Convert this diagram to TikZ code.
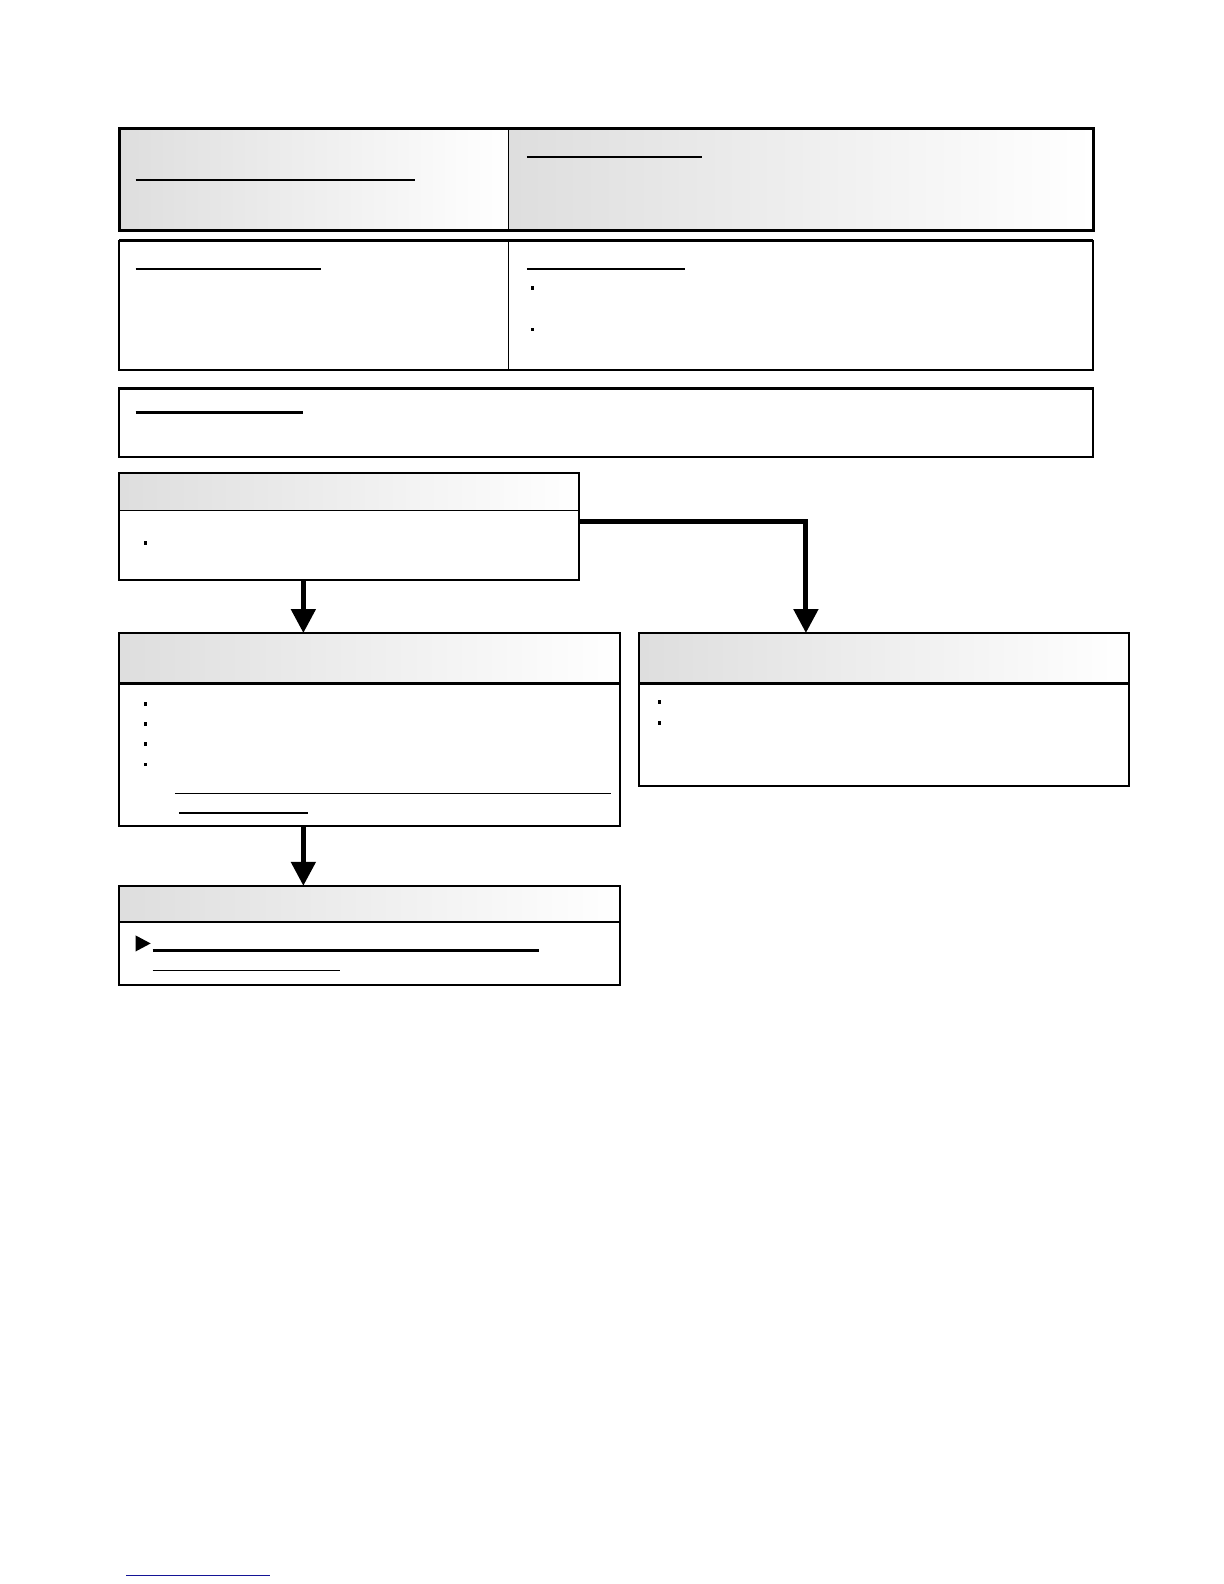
\documentclass[tikz,border=0pt]{standalone}
\usepackage{xcolor}
\usetikzlibrary{arrows.meta}
\definecolor{linkblue}{RGB}{20,20,150}
\newcommand{\pxu}{0.5056bp}

\begin{document}
\begin{tikzpicture}[x=\pxu, y=-\pxu,
    cell/.style={inner sep=0pt, outer sep=0pt, anchor=north west},
    headcell/.style={cell, left color=black!13, right color=white},
    frame/.style={cell, draw, line width=1bp},
    flow/.style={line width=2.5bp, -{Triangle[length=12bp, width=12bp]}},
    rule/.style={line width=0.6bp},
    boldrule/.style={line width=1.1bp},
    dot/.style={fill, inner sep=0pt, minimum width=1.5bp, minimum height=1.8bp}]
    \useasboundingbox (0bp,0bp) rectangle (612bp,-792bp);

    % top row, two shaded cells
    \node[headcell, minimum width={385*\pxu}, minimum height={101*\pxu}] (topL) at (118,127) {};
    \node[headcell, minimum width={578*\pxu}, minimum height={101*\pxu}] (topR) at (503,127) {};
    \draw [line width=1.5bp] (topL.north west) rectangle (topR.south east);
    \draw [line width=0.5bp] (topL.north east) -- (topL.south east);
    \draw [rule] (134,178) -- (410,178);
    \draw [boldrule] (521,155) -- (694,155);

    % second row
    \node[cell, minimum width={385*\pxu}, minimum height={128*\pxu}] (midL) at (118,238) {};
    \node[cell, minimum width={578*\pxu}, minimum height={128*\pxu}] (midR) at (503,238) {};
    \draw [line width=0.9bp] (midL.north west) rectangle (midR.south east);
    \draw [line width=1.5bp] (midL.north west) -- (midR.north east);
    \draw [line width=0.5bp] (midL.north east) -- (midL.south east);
    \draw [rule] (134,266) -- (317,266);
    \draw [rule] (521,266) -- (677,266);
    \node[dot] (midR1) at (527,285) {};
    \node[dot] (midR2) at (527,326) {};

    % third row
    \node[frame, minimum width={963*\pxu}, minimum height={68*\pxu}] (note) at (118,384) {};
    \draw [line width=1.5bp] (note.north west) -- (note.north east);
    \draw [boldrule] (134,408) -- (300,408);

    % step A
    \node[headcell, minimum width={455*\pxu}, minimum height={37*\pxu}] (stepAh) at (118,468) {};
    \node[frame, minimum width={455*\pxu}, minimum height={106*\pxu}] (stepA) at (118,468) {};
    \draw [line width=0.8bp] (stepAh.south west) -- (stepAh.south east);
    \node[dot] (stepA1) at (144,537) {};

    % step B
    \node[headcell, minimum width={495*\pxu}, minimum height={50*\pxu}] (stepBh) at (118,626) {};
    \node[frame, minimum width={495*\pxu}, minimum height={191*\pxu}] (stepB) at (118,626) {};
    \draw [line width=1.1bp] (stepBh.south west) -- (stepBh.south east);
    \foreach \y [count=\i] in {696,716,736,756}
      \node[dot] (stepB\i) at (144,\y) {};
    \draw [rule] (173,785) -- (604,785);
    \draw [boldrule] (177,804) -- (305,804);

    % step C
    \node[headcell, minimum width={484*\pxu}, minimum height={50*\pxu}] (stepCh) at (632,626) {};
    \node[frame, minimum width={484*\pxu}, minimum height={151*\pxu}] (stepC) at (632,626) {};
    \draw [line width=1.1bp] (stepCh.south west) -- (stepCh.south east);
    \node[dot] (stepC1) at (652,694) {};
    \node[dot] (stepC2) at (652,715) {};

    % step D
    \node[headcell, minimum width={495*\pxu}, minimum height={36*\pxu}] (stepDh) at (118,876) {};
    \node[frame, minimum width={495*\pxu}, minimum height={98*\pxu}] (stepD) at (118,876) {};
    \draw [line width=0.8bp] (stepDh.south west) -- (stepDh.south east);
    \fill (134,925) -- (134,941) -- (149,933) -- cycle;
    \draw [boldrule] (151,940) -- (533,940);
    \draw [rule] (151,960) -- (336,960);

    % connectors
    \coordinate (drop) at (300,0);
    \coordinate (branch) at (797,516);
    \draw [flow] (stepA.south -| drop) -- (stepB.north -| drop);
    \draw [flow] (stepA.east |- branch) -| (stepC.north -| branch);
    \draw [flow] (stepB.south -| drop) -- (stepD.north -| drop);

    % footer link
    \draw [linkblue, line width=0.8bp] (125,1558) -- (267,1558);
\end{tikzpicture}
\end{document}
